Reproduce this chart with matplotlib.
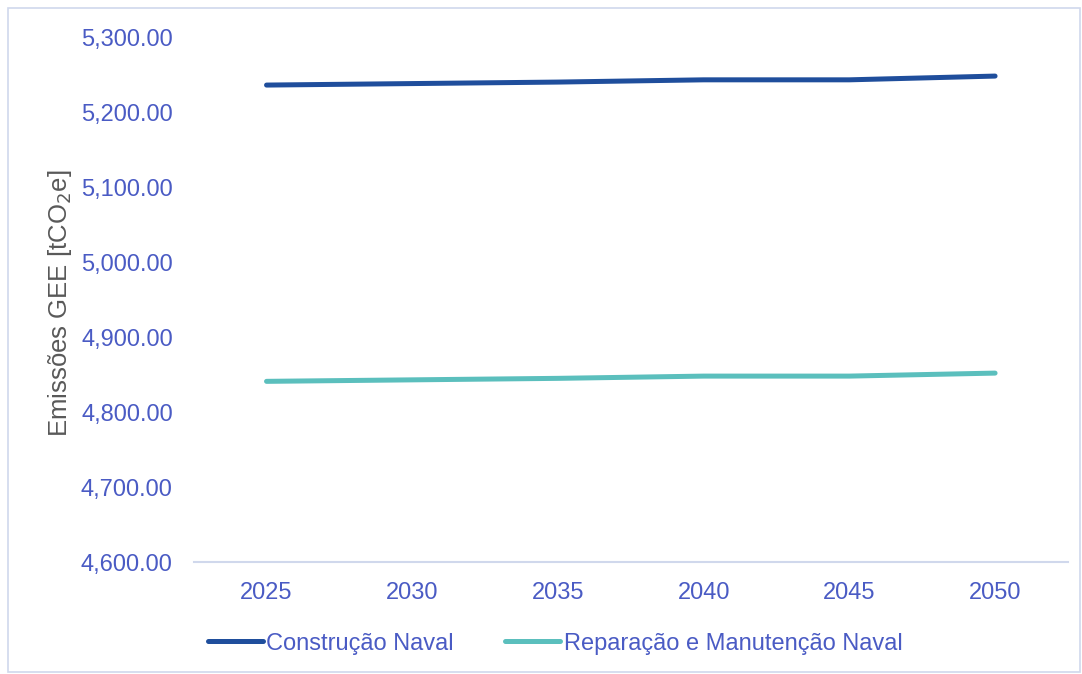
import matplotlib
matplotlib.use("Agg")
import matplotlib.pyplot as plt
from matplotlib.patches import Rectangle
from matplotlib.ticker import FuncFormatter

# dados
anos = ["2025", "2030", "2035", "2040", "2045", "2050"]
construcao = [5236, 5238, 5240, 5243, 5243, 5248]
reparacao = [4841, 4843, 4845, 4848, 4848, 4852]

plt.rcParams['font.family'] = ['Liberation Sans', 'DejaVu Sans']

azul_txt = '#4a5bc4'
cinza_txt = '#595959'

fig = plt.figure(figsize=(10.82, 6.74), dpi=100)
ax = fig.add_axes([0.179, 0.166, 0.808, 0.779])

x = range(len(anos))
ax.plot(x, construcao, color='#1f4e9c', lw=3.6, solid_capstyle='round',
        label='Construção Naval')
ax.plot(x, reparacao, color='#5bbfbd', lw=3.6, solid_capstyle='round',
        label='Reparação e Manutenção Naval')

ax.set_xlim(-0.5, len(anos) - 0.5)
ax.set_ylim(4600, 5300)
ax.set_yticks(range(4600, 5301, 100))
ax.yaxis.set_major_formatter(FuncFormatter(lambda v, p: f"{v:,.2f}"))
ax.set_xticks(list(x))
ax.set_xticklabels(anos)

for s in ['top', 'right', 'left']:
    ax.spines[s].set_visible(False)
ax.spines['bottom'].set_color('#d0d8ec')
ax.spines['bottom'].set_linewidth(1.5)
ax.tick_params(axis='x', length=0, pad=14, labelsize=17, labelcolor=azul_txt)
ax.tick_params(axis='y', length=0, pad=15, labelsize=17, labelcolor=azul_txt)

fig.text(0.055, 0.55, 'Emissões GEE [tCO$_2$e]', rotation=90, ha='center',
         va='center', fontsize=18.5, color=cinza_txt)

leg = fig.legend(loc='center', bbox_to_anchor=(0.513, 0.045), ncol=2,
                 frameon=False, fontsize=17, handlelength=2.33,
                 handletextpad=0.13, columnspacing=2.2)
for t in leg.get_texts():
    t.set_color(azul_txt)

# moldura do gráfico
fig.patches.append(Rectangle((7.5 / 1082, 2.5 / 674), 1072 / 1082, 664 / 674,
                             transform=fig.transFigure, fill=False,
                             edgecolor='#d0d8ec', lw=1.2))

fig.savefig('out.png', dpi=100)
